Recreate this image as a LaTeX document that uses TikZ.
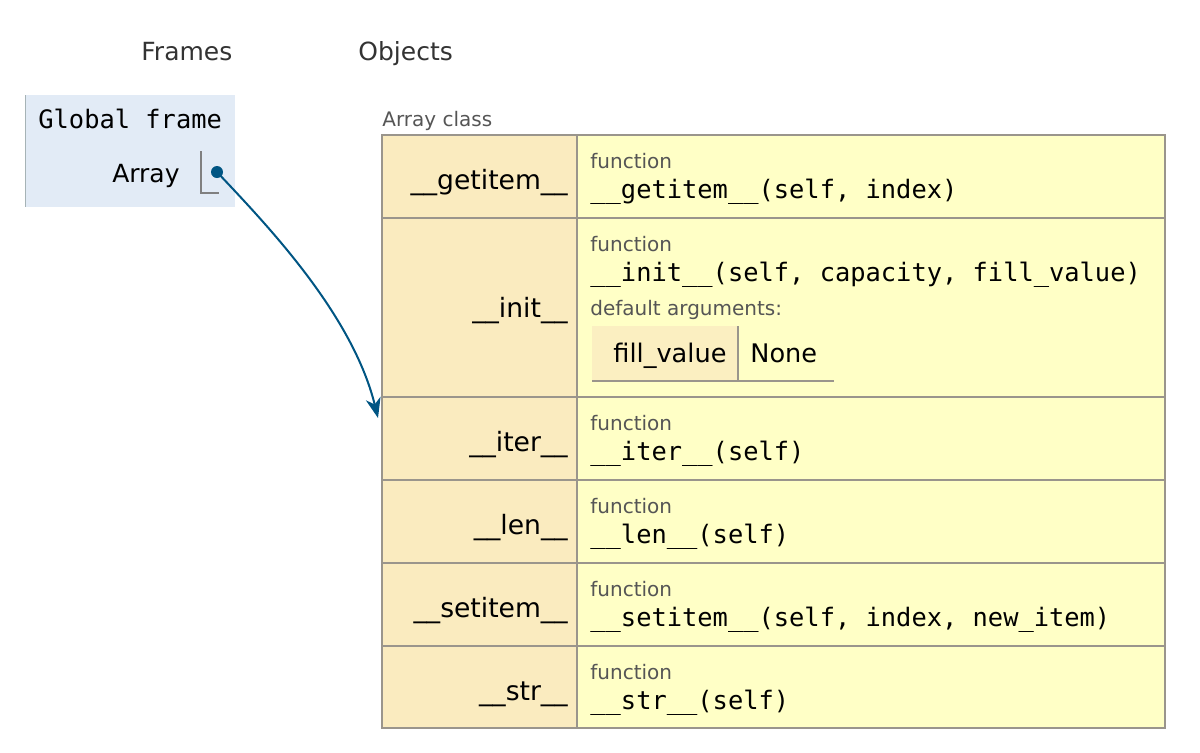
\documentclass[tikz,border=0pt]{standalone}
\usepackage{fontspec}
\setmainfont{DejaVu Sans}
\setmonofont{DejaVu Sans Mono}
\usetikzlibrary{arrows.meta}

\definecolor{framebg}{HTML}{E2EBF6}
\definecolor{framebar}{HTML}{A6B3B6}
\definecolor{keybg}{HTML}{FAEBBF}
\definecolor{valbg}{HTML}{FFFFC6}
\definecolor{tblgray}{HTML}{9A958C}
\definecolor{ptrblue}{HTML}{005583}
\definecolor{lblgray}{HTML}{555555}

\tikzset{
  hdrtxt/.style={anchor=base west,inner sep=0pt,text=black!80,font=\fontsize{12.5}{15}\selectfont},
  keytxt/.style={anchor=base east,inner sep=0pt,font=\fontsize{13.3}{16}\selectfont},
  smalltxt/.style={anchor=base west,inner sep=0pt,text=lblgray,font=\fontsize{10}{12}\selectfont},
  codetxt/.style={anchor=base west,inner sep=0pt,font=\ttfamily\fontsize{12.7}{15}\selectfont},
  argtxt/.style={anchor=base west,inner sep=0pt,font=\fontsize{12.8}{15}\selectfont},
  tblline/.style={draw=tblgray,line width=0.75pt},
  ptrdot/.style={circle,fill=ptrblue,inner sep=0pt,minimum size=6pt},
  ptrarrow/.style={draw=ptrblue,line width=1pt,-{Stealth[length=10pt,width=7.5pt,inset=3pt]}}
}

\begin{document}
\begin{tikzpicture}[x=0.5pt,y=-0.5pt]
\useasboundingbox (0,0) rectangle (1200,752);

% column headers
\node[hdrtxt] (frames) at (141,60) {Frames};
\node[hdrtxt] (objects) at (358,60) {Objects};

% global frame
\fill[framebg] (25,95) rectangle (235,207);
\draw[framebar,line width=0.5pt] (25,95) -- (25,207);
\node[codetxt] (gframe) at (38,128) {Global frame};
\node[keytxt,font=\fontsize{12.5}{15}\selectfont] (arrayvar) at (180,182) {Array};
\draw[gray,line width=0.75pt] (201,151) |- (219,193);
\node[ptrdot] (dot) at (217,172) {};

% class object
\node[smalltxt] (clsname) at (382,126) {Array class};
\fill[keybg] (382,135) rectangle (577,728);
\fill[valbg] (577,135) rectangle (1165,728);
\foreach \y in {218,397,480,563,646}
  \draw[tblline] (382,\y) -- (1165,\y);
\draw[tblline] (577,135) -- (577,728);
\draw[tblline,line width=1pt] (382,135) rectangle (1165,728);

% plain rows
\foreach \top/\name/\sig in {135/getitem/{self, index},397/iter/self,480/len/self,563/setitem/{self, index, new\_item},646/str/self}{
  \node[keytxt] (key-\name) at (568,\top+54) {\_\_\name\_\_};
  \node[smalltxt] (fn-\name) at (590,\top+33) {function};
  \node[codetxt] (sig-\name) at (590,\top+63) {\_\_\name\_\_(\sig)};
}

% __init__ row with default argument
\node[keytxt] (key-init) at (568,317) {\_\_init\_\_};
\node[smalltxt] (fn-init) at (590,251) {function};
\node[codetxt] (sig-init) at (590,281) {\_\_init\_\_(self, capacity, fill\_value)};
\node[smalltxt] (defargs) at (590,315) {default arguments:};
\fill[keybg!80!valbg] (592,326) rectangle (738,381);
\draw[tblline] (592,381) -- (834,381);
\draw[tblline] (738,326) -- (738,381);
\node[argtxt] (argname) at (613,362) {fill\_value};
\node[argtxt] (argval) at (750,362) {None};

% pointer
\coordinate (target) at (378,418);
\draw[ptrarrow] (dot.center) .. controls (262,220) and (352,312) .. (target);

\end{tikzpicture}
\end{document}
